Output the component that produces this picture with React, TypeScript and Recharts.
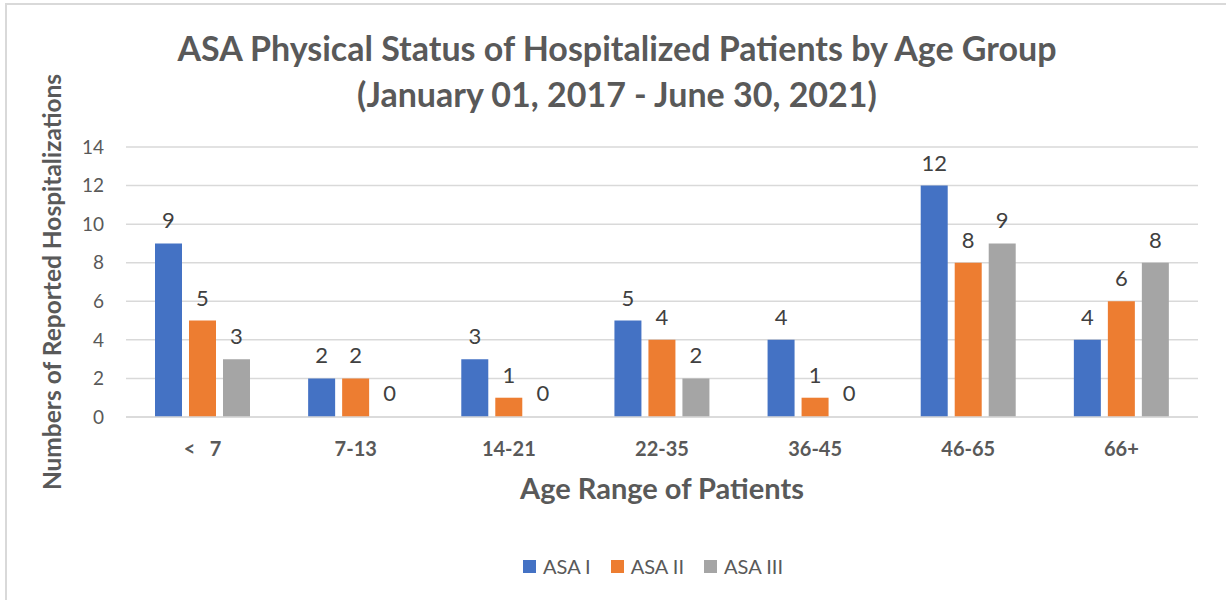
import React from "react";
import { BarChart, Bar, XAxis, YAxis, CartesianGrid, LabelList, Legend, Rectangle } from "recharts";

const categories = ["<\u00a0\u00a0\u00a07", "7-13", "14-21", "22-35", "36-45", "46-65", "66+"];
const asaI = [9, 2, 3, 5, 4, 12, 4];
const asaII = [5, 2, 1, 4, 1, 8, 6];
const asaIII = [3, 0, 0, 2, 0, 9, 8];
const yTicks = [0, 2, 4, 6, 8, 10, 12, 14];
const seriesNames = ["ASA I", "ASA II", "ASA III"];
const seriesColors = ["#4472C4", "#ED7D31", "#A5A5A5"];

const data = categories.map((c, i) => ({ cat: c, s0: asaI[i], s1: asaII[i], s2: asaIII[i] }));

const FONT = "Lato, 'Open Sans', sans-serif";

const LegendContent = () => (
  <div style={{ display: "flex", justifyContent: "center", alignItems: "center", height: 20, fontFamily: FONT, fontSize: 20, color: "#595959", paddingLeft: 98 }}>
    {seriesNames.map((n, i) => (
      <div key={n} style={{ display: "flex", alignItems: "center", marginRight: 20 }}>
        <div style={{ width: 13, height: 13, background: seriesColors[i], marginRight: 7 }} />
        <span>{n}</span>
      </div>
    ))}
  </div>
);

const makeShape = (key: string) => (props: any) => {
  if (props.payload && props.payload[key] === 0) return <g />;
  return <Rectangle {...props} />;
};

export default function App() {
  return (
    <div style={{ position: "absolute", left: 0, top: 0, width: 1226, height: 600, overflow: "hidden", background: "#fff" }}>
      <div style={{ position: "absolute", left: 5, top: 3, width: 1400, height: 800, borderTop: "2px solid #D9D9D9", borderLeft: "2px solid #D9D9D9" }} />
      <div style={{ position: "absolute", left: 0, top: 25, width: 1234, textAlign: "center", fontFamily: FONT, fontWeight: 700, fontSize: 34, lineHeight: "46px", color: "#595959" }}>
        <div>ASA Physical Status of Hospitalized Patients by Age Group</div>
        <div>(January 01, 2017 - June 30, 2021)</div>
      </div>
      <div style={{ position: "absolute", left: 0, top: 0 }}>
        <BarChart width={1226} height={600} data={data} margin={{ top: 147, right: 28, left: 30, bottom: 24 }} barSize={27} barGap={7}>
          <CartesianGrid vertical={false} stroke="#D9D9D9" strokeWidth={1.5} />
          <XAxis
            dataKey="cat"
            height={139}
            tickLine={false}
            axisLine={{ stroke: "#D9D9D9", strokeWidth: 1.5 }}
            tickSize={0}
            tickMargin={25}
            tick={{ fill: "#595959", fontSize: 20, fontWeight: 700, fontFamily: FONT }}
            interval={0}
            label={{ value: "Age Range of Patients", position: "insideTop", offset: 61, fill: "#595959", fontSize: 29, fontWeight: 700, fontFamily: FONT }}
          />
          <YAxis
            width={96}
            domain={[0, 14]}
            ticks={yTicks}
            axisLine={false}
            tickLine={false}
            tickSize={0}
            tickMargin={22}
            tick={{ fill: "#595959", fontSize: 19, fontFamily: FONT }}
            label={{ value: "Numbers of Reported Hospitalizations", angle: -90, position: "insideLeft", offset: 22, style: { textAnchor: "middle" }, fill: "#595959", fontSize: 24.5, fontWeight: 700, fontFamily: FONT }}
          />
          <Legend verticalAlign="bottom" height={20} content={<LegendContent />} />
          {["s0", "s1", "s2"].map((k, i) => (
            <Bar key={k} dataKey={k} name={seriesNames[i]} fill={seriesColors[i]} isAnimationActive={false} minPointSize={(v: number) => (v === 0 ? 1 : 0)} shape={makeShape(k)}>
              <LabelList dataKey={k} position="top" offset={15} fill="#404040" fontSize={22} fontFamily={FONT} />
            </Bar>
          ))}
        </BarChart>
      </div>
    </div>
  );
}
